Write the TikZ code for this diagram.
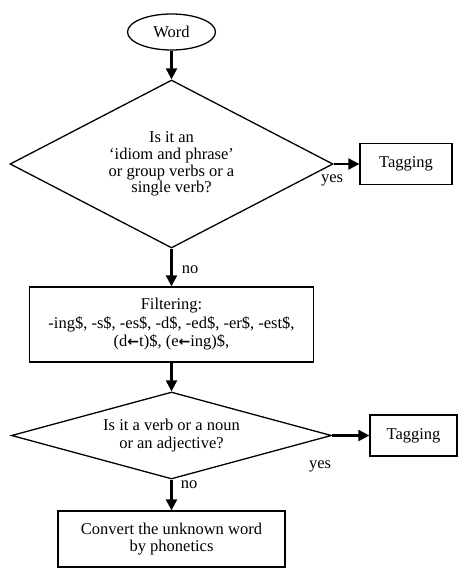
\documentclass[tikz,border=0pt]{standalone}
\usepackage{fontspec}
\setmainfont{Liberation Serif}
\newfontfamily\arrowfont{DejaVu Sans}
\newcommand{\leftarr}{{\arrowfont\bfseries\fontsize{14bp}{14bp}\selectfont ←}}
\usetikzlibrary{shapes.geometric,arrows.meta}
\begin{document}
\begin{tikzpicture}[x=1bp,y=-1bp,
  every node/.style={font=\fontsize{16.5bp}{17.5bp}\selectfont},
  shape line/.style={draw, line width=1.3bp},
  decision/.style={shape line, diamond, inner sep=0pt, align=center},
  process/.style={shape line, rectangle, inner sep=0pt, align=center},
  terminal/.style={shape line, ellipse, inner sep=0pt},
  flow/.style={line width=2.2bp, -{Triangle[length=11bp,width=11bp]}},
  lbl/.style={inner sep=0pt}]
\useasboundingbox (0,0) rectangle (458,569);

% shapes
\node[terminal, minimum width=88bp, minimum height=36bp] (word) at (171.5,32) {Word};
\node[decision, minimum width=323bp, minimum height=168bp, shape aspect=1.92,
      font=\fontsize{16.5bp}{16.8bp}\selectfont] (q1) at (171.5,164)
  {Is it an\\‘idiom and phrase’\\or group verbs or a\\single verb?};
\node[process, minimum width=92bp, minimum height=41bp] (tag1) at (406,164) {Tagging};
\node[process, minimum width=284bp, minimum height=75bp,
      font=\fontsize{16.5bp}{18.5bp}\selectfont] (filter) at (171.5,324.5)
  {Filtering:\\-ing\$, -s\$, -es\$, -d\$, -ed\$, -er\$, -est\$,\\(d\leftarr t)\$, (e\leftarr ing)\$,};
\node[decision, minimum width=320bp, minimum height=87bp, shape aspect=3.68] (q2) at (171.5,435.5)
  {Is it a verb or a noun\\or an adjective?};
\node[process, minimum width=87bp, minimum height=41bp] (tag2) at (413.5,435.5) {Tagging};
\node[process, minimum width=227bp, minimum height=56bp] (conv) at (171.5,539)
  {Convert the unknown word\\by phonetics};

% connectors
\draw[flow] (word.south) -- (q1.north);
\draw[flow] (q1.east) -- (tag1.west);
\draw[flow] (q1.south) -- (filter.north);
\draw[flow] (filter.south) -- (q2.north);
\draw[flow] (q2.east) -- (tag2.west);
\draw[flow] (q2.south) -- (conv.north);

% branch labels
\node[lbl] (yes1) at (332,180) {yes};
\node[lbl] (no1) at (190,270) {no};
\node[lbl] (yes2) at (320,466) {yes};
\node[lbl] (no2) at (189,485) {no};
\end{tikzpicture}
\end{document}
